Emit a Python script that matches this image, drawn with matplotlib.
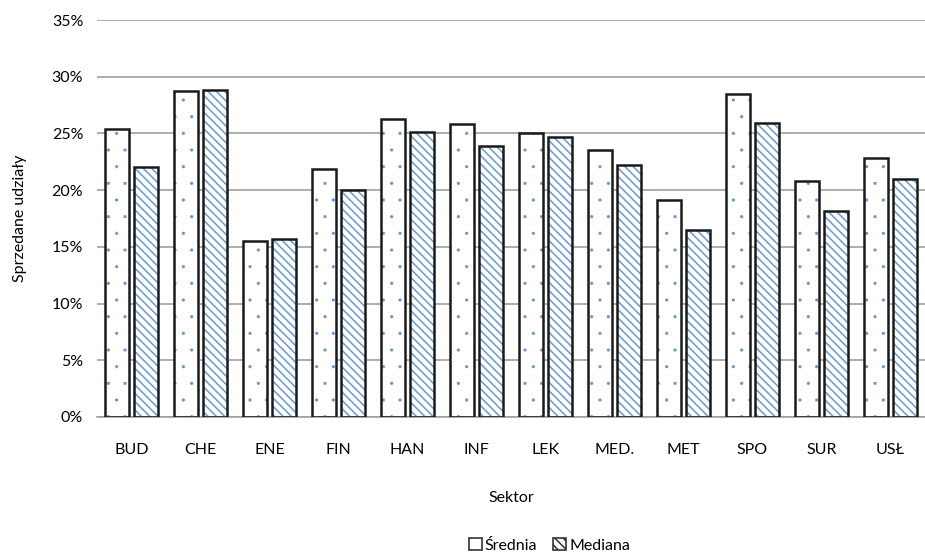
import numpy as np
import matplotlib
matplotlib.use("Agg")
import matplotlib.pyplot as plt
import matplotlib.hatch
from matplotlib.ticker import FuncFormatter
from matplotlib.patches import Patch

sektory = ["BUD", "CHE", "ENE", "FIN", "HAN", "INF", "LEK", "MED.", "MET", "SPO", "SUR", "USŁ"]
srednia = [25.4, 28.7, 15.5, 21.9, 26.3, 25.8, 25.0, 23.5, 19.1, 28.5, 20.8, 22.8]
mediana = [22.0, 28.8, 15.7, 20.0, 25.1, 23.9, 24.7, 22.2, 16.5, 25.9, 18.2, 21.0]

plt.rcParams["font.family"] = ["Lato", "DejaVu Sans"]
plt.rcParams["hatch.linewidth"] = 1.1
# mniejsze kropki we wzorze
matplotlib.hatch.SmallFilledCircles.size = 0.05

niebieski = "#6a98d2"

fig = plt.figure(figsize=(9.25, 5.56), dpi=100)
ax = fig.add_axes([0.105, 0.25, 0.895, 0.714])

x = np.arange(len(sektory))
w = 0.34
off = 0.21

# wypelnienie z wzorem, potem czarna ramka na wierzchu
ax.bar(x - off, srednia, w, color="white", edgecolor=niebieski, hatch=".", linewidth=0, zorder=2)
ax.bar(x + off, mediana, w, color="white", edgecolor=niebieski, hatch="\\\\\\\\", linewidth=0, zorder=2)
ax.bar(x - off, srednia, w, fill=False, edgecolor="#1a1a1a", linewidth=1.8, zorder=3)
ax.bar(x + off, mediana, w, fill=False, edgecolor="#1a1a1a", linewidth=1.8, zorder=3)

ax.set_xlim(-0.5, len(sektory) - 0.5)
ax.set_ylim(0, 35)
ax.set_yticks(np.arange(0, 36, 5))
ax.yaxis.set_major_formatter(FuncFormatter(lambda v, p: f"{v:.0f}%"))
ax.set_xticks(x)
ax.set_xticklabels(sektory)
ax.tick_params(length=0, labelsize=11.5, colors="#000000")
ax.tick_params(axis="x", pad=19)
ax.tick_params(axis="y", pad=10)
ax.grid(axis="y", color="#a0a0a0", linewidth=1.2, zorder=0)
ax.set_axisbelow(True)
for s in ["top", "right", "left"]:
    ax.spines[s].set_visible(False)
ax.spines["bottom"].set_color("#a0a0a0")
ax.spines["bottom"].set_linewidth(1.2)

ax.set_ylabel("Sprzedane udziały", fontsize=11.5, labelpad=18)
ax.set_xlabel("Sektor", fontsize=11.5, labelpad=24)

uchwyty = [
    Patch(facecolor="white", edgecolor="#333333", linewidth=1.2, label="Średnia"),
    Patch(facecolor="white", edgecolor="#333333", hatch="\\\\\\\\", linewidth=1.2, label="Mediana"),
]
fig.legend(handles=uchwyty, loc="lower center", bbox_to_anchor=(0.594, -0.02), ncol=2,
           frameon=False, fontsize=11.5, handlelength=0.8, handleheight=0.8,
           handletextpad=0.2, columnspacing=1.0)

fig.savefig("out.png", dpi=100)
